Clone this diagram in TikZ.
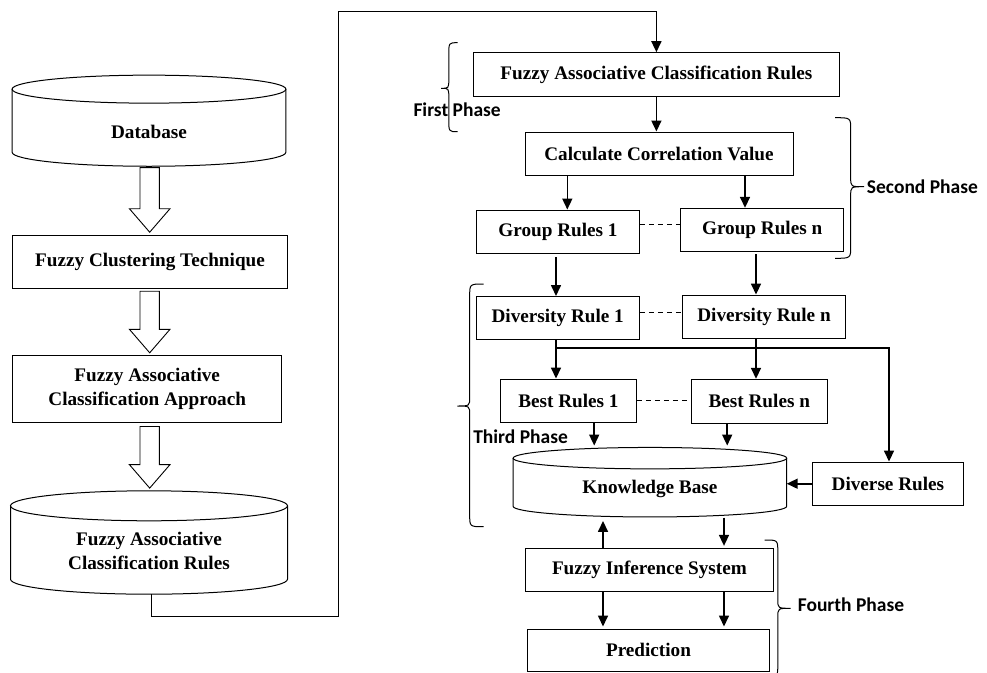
\documentclass[tikz,border=0pt]{standalone}
\usepackage{fontspec}
\setmainfont{Liberation Serif}
\newfontfamily\phasefont{Carlito}
\usetikzlibrary{arrows.meta,calc}

% outline of an upright cylinder built round a (draw=none) body node;
% #1 = body node, #2 = vertical radius of the end ellipses (pt)
\newcommand{\cylinderoutline}[2]{%
  \draw[boxline] let \p1=($(#1.east)-(#1.west)$) in
    (#1.north west) -- (#1.south west)
    arc[start angle=180, end angle=360, x radius=0.5*\x1, y radius=#2pt]
    -- (#1.north east);
  \draw[boxline] let \p1=($(#1.east)-(#1.west)$) in
    (#1.north) ellipse [x radius=0.5*\x1, y radius=#2pt];}

% hollow block arrow from #1 (shaft top) to #2 (tip)
\newcommand{\blockarrow}[2]{%
  \draw[hollow] let \p1=(#1), \p2=(#2) in
    (\x1-9.7pt,\y1) -- (\x1+9.7pt,\y1) -- (\x1+9.7pt,\y2+23.5pt)
    -- (\x1+20.3pt,\y2+23.5pt) -- (\x1,\y2) -- (\x1-20.3pt,\y2+23.5pt)
    -- (\x1-9.7pt,\y2+23.5pt) -- cycle;}

% curly brace: tip x, spine x, cusp x, top y, middle y, bottom y
\newcommand{\phasebrace}[6]{%
  \draw[bracestyle] (#1,#4) .. controls (#2,#4) .. (#2,{#4+12})
    -- (#2,{#5-9}) .. controls (#2,#5) .. (#3,#5)
    .. controls (#2,#5) .. (#2,{#5+9})
    -- (#2,{#6-12}) .. controls (#2,#6) .. (#1,#6);}

\begin{document}
\begin{tikzpicture}[x=1pt,y=-1pt,
  boxline/.style={line width=1pt, draw=black},
  procbox/.style={boxline, rectangle, inner sep=0pt,
    font=\fontsize{19.2}{24}\selectfont\bfseries, align=center},
  cylbody/.style={rectangle, inner sep=0pt, draw=none},
  cyltext/.style={inner sep=0pt, font=\fontsize{19.2}{24.3}\selectfont\bfseries, align=center},
  phase/.style={inner sep=0pt, anchor=west, font=\phasefont\fontsize{19.5}{23}\selectfont\bfseries},
  flow/.style={line width=1.6pt, -{Triangle[length=11pt,width=10pt]}},
  loopline/.style={line width=1pt},
  dashlink/.style={line width=0.9pt, dash pattern=on 5pt off 4pt},
  bracestyle/.style={line width=1pt},
  hollow/.style={line width=0.9pt, draw=black, fill=white}]

\useasboundingbox (0,0) rectangle (987,672);
\clip (0,0) rectangle (987,672);

% ---------- left column ----------
\node[cylbody, minimum width=273.4pt, minimum height=62.7pt] (db) at (149,120.7) {};
\cylinderoutline{db}{14}
\node[cyltext] (dbtext) at ($(db.center)+(0,11)$) {Database};

\node[procbox, minimum width=274.6pt, minimum height=53pt] (fct) at (150,262.2)
  {Fuzzy Clustering Technique};
\node[procbox, minimum width=269.5pt, minimum height=67pt] (faca) at (147.2,389.2)
  {Fuzzy Associative\\Classification Approach};

\node[cylbody, minimum width=276.6pt, minimum height=73pt] (lfacr) at (149,542.5) {};
\cylinderoutline{lfacr}{15}
\node[cyltext] (lfacrtext) at ($(lfacr.center)+(0,8.7)$)
  {Fuzzy Associative\\Classification Rules};

\blockarrow{$(db.south)+(0.7,15.3)$}{$(fct.north)+(0,-3)$}
\blockarrow{$(fct.south)+(-0.3,2)$}{$(faca.north)+(0,-2.4)$}
\blockarrow{$(faca.south)+(2.5,3.3)$}{$(lfacr.north)+(0,-17.7)$}

% ---------- right column ----------
\node[procbox, minimum width=366.3pt, minimum height=43.6pt] (facr) at (656.4,74.5)
  {Fuzzy Associative Classification Rules};
\node[procbox, minimum width=268pt, minimum height=43.2pt] (ccv) at (659,153.6)
  {Calculate Correlation Value};
\node[procbox, minimum width=162.8pt, minimum height=43.3pt] (gr1) at (558,231.7)
  {Group Rules 1};
\node[procbox, minimum width=162.9pt, minimum height=43.4pt] (grn) at (762.2,230)
  {Group Rules n};
\node[procbox, minimum width=163.3pt, minimum height=43pt] (dr1) at (557.7,318)
  {Diversity Rule 1};
\node[procbox, minimum width=162.9pt, minimum height=43.3pt] (drn) at (764,316.7)
  {Diversity Rule n};
\node[procbox, minimum width=136pt, minimum height=43.7pt] (br1) at (568.4,400.9)
  {Best Rules 1};
\node[procbox, minimum width=136.1pt, minimum height=44pt] (brn) at (759.3,401.3)
  {Best Rules n};
\node[procbox, minimum width=151.1pt, minimum height=43.3pt] (diverse) at (887.9,483.7)
  {Diverse Rules};

\node[cylbody, minimum width=273.2pt, minimum height=47.7pt] (kb) at (649.9,482.2) {};
\cylinderoutline{kb}{10.7}
\node[cyltext] (kbtext) at ($(kb.center)+(0,7)$) {Knowledge Base};

\node[procbox, minimum width=247.7pt, minimum height=42.7pt] (fis) at (649.4,569.7)
  {Fuzzy Inference System};
\node[procbox, minimum width=242.5pt, minimum height=42pt] (pred) at (648.5,650)
  {Prediction};

% ---------- connectors ----------
\coordinate (loopbottom) at (338.8,616.7);
\coordinate (looptop) at (338.8,11);
\draw[loopline] ($(lfacr.south)+(2.7,15)$) |- (loopbottom) -- (looptop) -- (looptop -| facr.north);
\draw[flow] (looptop -| facr.north) -- (facr.north);
\draw[flow] (facr.south) -- (facr.south |- ccv.north);

\coordinate (colA) at (567.3,0);
\coordinate (colB) at (745,0);
\coordinate (colC) at (556,0);
\coordinate (colD) at (756,0);
\coordinate (colE) at (889,0);
\coordinate (colF) at (594.2,0);
\coordinate (colG) at (727.2,0);
\coordinate (colH) at (603,0);
\coordinate (colI) at (724,0);
\coordinate (hbar) at (0,347.7);

\draw[flow] (ccv.south -| colA) -- (gr1.north -| colA);
\draw[flow] (ccv.south -| colB) -- (grn.north -| colB);
\draw[flow, shorten <=3pt] (gr1.south -| colC) -- (dr1.north -| colC);
\draw[flow, shorten <=2pt] (grn.south -| colD) -- (drn.north -| colD);
\draw[flow] (dr1.south -| colC) -- (br1.north -| colC);
\draw[flow] (hbar -| colC) -| (diverse.north -| colE);
\draw[flow] (drn.south -| colD) -- (brn.north -| colD);
\draw[flow] (br1.south -| colF) -- ($(kb.north -| colF)+(0,-12.6)$);
\draw[flow] (brn.south -| colG) -- ($(kb.north -| colG)+(0,-12.6)$);
\draw[flow] (diverse.west) -- (diverse.west -| kb.east);
\draw[flow] (fis.north -| colH) -- ($(kb.south -| colH)+(0,14.7)$);
\draw[flow, shorten >=2pt] ($(kb.south -| colI)+(0,11.3)$) -- (fis.north -| colI);
\draw[flow, shorten >=2pt] (fis.south -| colH) -- (pred.north -| colH);
\draw[flow, shorten >=2pt] (fis.south -| colI) -- (pred.north -| colI);

\coordinate (dashA) at (0,224.3);
\coordinate (dashB) at (0,312.7);
\coordinate (dashC) at (0,400);
\draw[dashlink] (gr1.east |- dashA) -- (grn.west |- dashA);
\draw[dashlink] (dr1.east |- dashB) -- (drn.west |- dashB);
\draw[dashlink] (br1.east |- dashC) -- (brn.west |- dashC);

% ---------- phases ----------
\phasebrace{457.7}{448.8}{441}{42.7}{88.3}{131.7}
\phasebrace{835}{850.7}{864}{117.7}{186.7}{258.3}
\phasebrace{483.6}{469.7}{457.4}{284}{406}{526.7}
\phasebrace{764.5}{777.8}{790.7}{540}{608.3}{676.7}

\node[phase] (phase1) at (413.3,109.3) {First Phase};
\node[phase] (phase2) at (866.7,186.7) {Second Phase};
\node[phase] (phase3) at (473.1,436.7) {Third Phase};
\node[phase] (phase4) at (797.6,604.3) {Fourth Phase};

\end{tikzpicture}
\end{document}
